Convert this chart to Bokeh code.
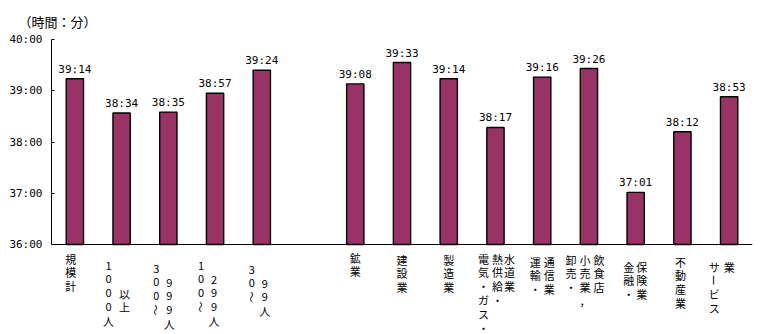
import math
from bokeh.plotting import figure
from bokeh.models import (ColumnDataSource, FactorRange, Range1d, LabelSet, Span,
                          FixedTicker)
from bokeh.core.properties import value
from bokeh.embed import file_html
from bokeh.resources import INLINE

# ---------------- data ----------------
categories = ["規模計", "1000人以上", "300～999人", "100～299人", "30～99人",
              "鉱業", "建設業", "製造業", "電気・ガス・熱供給・水道業", "運輸・通信業",
              "卸売・小売業，飲食店", "金融・保険業", "不動産業", "サービス業"]
hours_text = ["39:14", "38:34", "38:35", "38:57", "39:24",
              "39:08", "39:33", "39:14", "38:17", "39:16",
              "39:26", "37:01", "38:12", "38:53"]
y_tick_labels = ["36:00", "37:00", "38:00", "39:00", "40:00"]
unit_label = "（時間：分）"

# vertical (tategaki) category label columns
label_columns = [
    ["規模計"],
    ["1000人", "以上"],
    ["300～", "999人"],
    ["100～", "299人"],
    ["30～", "99人"],
    ["鉱業"],
    ["建設業"],
    ["製造業"],
    ["電気・ガス・", "熱供給・", "水道業"],
    ["運輸・", "通信業"],
    ["卸売・", "小売業，", "飲食店"],
    ["金融・", "保険業"],
    ["不動産業"],
    ["サービス", "業"],
]

# ---------------- layout (pixels) ----------------
col_dx = [[-4], [-13, 3], [-12, 1], [-14, -1], [-10, 3], [0], [0], [0],
          [-12, 2, 14], [-7, 7], [-18, -4, 10], [-7, 6], [-2], [-15, 0]]
col_top = [[14], [21, 49], [24, 38], [21, 35], [25, 39], [13], [15], [15],
           [14, 14, 14], [17, 17], [15, 15, 15], [22, 22], [17], [22, 22]]
row_step = 13.8
frame_px = 205        # pixel height of the 36:00-40:00 span
below_px = 90         # room below the axis for the vertical labels


def to_minutes(s):
    h, m = s.split(":")
    return int(h) * 60 + int(m)


values = [to_minutes(s) for s in hours_text]
y_ticks = [to_minutes(s) for s in y_tick_labels]
y0, y1 = y_ticks[0], y_ticks[-1]
y_start = y0 - below_px * (y1 - y0) / frame_px

factors = categories[:5] + [" "] + categories[5:]

p = figure(width=760, height=334, x_range=FactorRange(factors=factors, range_padding=0),
           y_range=Range1d(y_start, y1), output_backend="svg", toolbar_location=None,
           min_border_left=51, min_border_right=8, min_border_top=39, min_border_bottom=0)
p.outline_line_color = None
p.background_fill_color = "white"
p.border_fill_color = "white"
p.grid.grid_line_color = None

src = ColumnDataSource(dict(cat=categories, val=values, txt=hours_text,
                            base=[y0] * len(categories)))
p.vbar(x="cat", top="val", bottom="base", width=0.37, source=src,
       fill_color="#993366", line_color="black", line_width=1.4)

p.add_layout(LabelSet(x="cat", y="val", text="txt", source=src, y_offset=3,
                      text_align="center", text_baseline="bottom",
                      text_font=value("DejaVu Sans Mono"), text_font_size="11px",
                      text_color="black"))

# axes
ya = p.yaxis[0]
ya.bounds = (y0, y1)
ya.ticker = FixedTicker(ticks=y_ticks)
ya.major_label_overrides = {t: l for t, l in zip(y_ticks, y_tick_labels)}
ya.major_label_text_font = "DejaVu Sans Mono"
ya.major_label_text_font_size = "11px"
ya.major_label_text_color = "black"
ya.major_tick_in = 3
ya.major_tick_out = 0
ya.minor_tick_in = 0
ya.minor_tick_out = 0
ya.major_label_standoff = 9
ya.axis_line_color = "black"
ya.major_tick_line_color = "black"

p.xaxis.visible = False
p.add_layout(Span(location=y0, dimension="width", line_color="black", line_width=1))

# vertical category labels
lx, ly, lxo, lyo, lt, la = [], [], [], [], [], []
for i, cat in enumerate(categories):
    for j, col in enumerate(label_columns[i]):
        for k, ch in enumerate(col):
            lx.append(cat)
            ly.append(y0)
            lxo.append(col_dx[i][j])
            lyo.append(-(col_top[i][j] + k * row_step))
            lt.append(ch)
            la.append(-math.pi / 2 if ch in "ー～" else 0.0)
lsrc = ColumnDataSource(dict(x=lx, y=ly, xo=lxo, yo=lyo, t=lt, a=la))
p.add_layout(LabelSet(x="x", y="y", x_offset="xo", y_offset="yo", text="t", angle="a",
                      source=lsrc, text_align="center", text_baseline="middle",
                      text_font=value("Noto Sans CJK JP"), text_font_size="11px",
                      text_color="black"))

p.title.text = unit_label
p.title.align = "left"
p.title.offset = -33
p.title.standoff = 18
p.title.text_font = "Noto Sans CJK JP"
p.title.text_font_size = "13px"
p.title.text_font_style = "normal"
p.title.text_color = "black"

open("out.html", "w").write(file_html(p, INLINE))
